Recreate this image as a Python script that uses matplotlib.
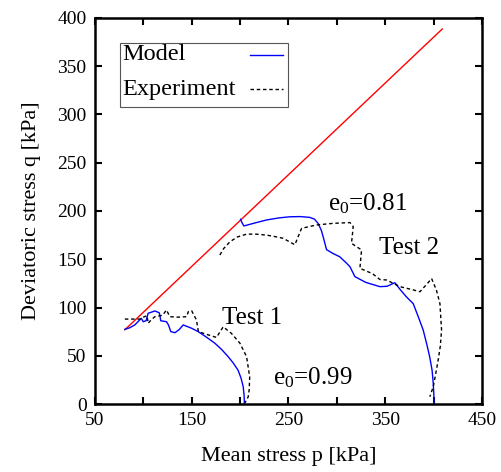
import numpy as np
import matplotlib
matplotlib.use('Agg')
import matplotlib.pyplot as plt
from matplotlib.patches import Rectangle

plt.rcParams['font.family'] = ['Liberation Serif', 'DejaVu Serif']
plt.rcParams['mathtext.fontset'] = 'custom'
plt.rcParams['mathtext.rm'] = 'Liberation Serif'
plt.rcParams['mathtext.it'] = 'Liberation Serif'

# critical state line q = M p
csl_p = [81, 409]
csl_M = 0.95

# test 1 (e0 = 0.99)
t1_model_p = [81, 86, 91.3, 95.5, 98, 99.9, 103, 105, 112, 116.5, 117.5, 118, 124, 126,
              128.5, 132.7, 137, 141.3, 150, 156.8, 165, 174, 181, 187.8, 193, 198, 201,
              203.3, 204.3, 204.5]
t1_model_q = [77.4, 79, 82, 86.3, 88.8, 85.3, 86.3, 94, 96.4, 94.6, 90, 86.3, 85.3, 82,
              75, 73.9, 77, 81.9, 78.5, 75, 69.5, 63, 56.5, 49, 42.5, 35, 27,
              18, 8, 0]
t1_exp_p = [81, 93, 96.5, 100, 104, 105, 108, 112, 120, 124, 127.5, 136, 144.8, 146.5,
            150, 155, 157, 166, 175.7, 182.6, 191.3, 199.9, 206.8, 210, 209.5, 208.5, 205]
t1_exp_q = [88, 88, 88, 90, 91.5, 83.6, 87, 90.5, 92, 97.4, 90.5, 90, 90.5, 95.6,
            96.7, 87, 75, 72, 69, 80, 73, 63, 49, 28, 15, 7.6, 1]

# test 2 (e0 = 0.81)
t2_model_p = [200.6, 202, 204, 215, 227.5, 240, 251.5, 262, 272, 277, 280.8, 284, 286,
              289.4, 296, 303, 310, 313.6, 318.7, 330, 344.6, 352, 360, 366, 372, 379,
              384, 389.3, 393, 396, 398.5, 399.7, 400.3, 400.4]
t2_model_q = [191.4, 188, 184.5, 187.5, 190.7, 192.8, 194, 194.2, 193.4, 191.5, 187, 180, 173,
              160, 156, 152.6, 146, 142.3, 132, 126, 121.6, 122, 125.7, 118, 111, 104,
              91, 76.7, 62, 49, 35, 21.4, 10, 0]
t2_exp_p = [179.2, 183, 189.5, 197, 206.8, 217, 227.5, 236, 244.6, 256.7, 263.6, 279,
            296.3, 313.6, 317, 315.2, 325.6, 323.9, 337, 344.6, 351.4, 365.2, 376, 386,
            392, 398, 403, 406.6, 408.3, 407, 404.8, 402, 399.7, 396.2]
t2_exp_q = [154.4, 161, 168, 173, 176, 176, 175, 173.5, 171.7, 165, 182, 185.5,
            187.2, 188, 183.7, 166.5, 159.6, 140.6, 135, 129, 128.5, 121.6, 119, 116.4,
            123, 130, 118, 104, 76.7, 60, 45.6, 30, 18, 7.6]

legend_labels = ['Model', 'Experiment']

model_style = dict(color='blue', lw=1.0)
exp_style = dict(color='black', lw=1.0, ls=(0, (2.5, 2)))

fig = plt.figure(figsize=(5.02, 4.72), dpi=100)
ax = fig.add_axes([0.189, 0.144, 0.771, 0.818])

cp = np.array(csl_p)
ax.plot(cp, csl_M * cp, color='red', lw=1.0)
ax.plot(t1_model_p, t1_model_q, **model_style)
ax.plot(t1_exp_p, t1_exp_q, **exp_style)
ax.plot(t2_model_p, t2_model_q, **model_style)
ax.plot(t2_exp_p, t2_exp_q, **exp_style)

ax.text(212, 89, 'Test 1', fontsize=18, ha='center', va='center')
ax.text(374.5, 161.6, 'Test 2', fontsize=18, ha='center', va='center')
ax.text(290.8, 208, r'e$_0$=0.81', fontsize=18, ha='left', va='center')
ax.text(234, 27, r'e$_0$=0.99', fontsize=18, ha='left', va='center')

# legend box: text on the left, line sample on the right (gnuplot style)
ax.add_patch(Rectangle((0.0646, 0.769), 0.434, 0.166, transform=ax.transAxes,
                       facecolor='white', edgecolor='#555555', lw=0.8, zorder=5))
for lab, sty, y in zip(legend_labels, [model_style, exp_style], [0.905, 0.815]):
    ax.text(0.072, y, lab, transform=ax.transAxes, fontsize=17.5, ha='left',
            va='center', zorder=6)
    ax.plot([0.400, 0.486], [y, y], transform=ax.transAxes, zorder=6, **sty)

ax.set_xlim(50, 450)
ax.set_ylim(0, 400)
ax.set_xticks(np.arange(50, 451, 50))
ax.set_xticklabels([str(v) if v % 100 == 50 else '' for v in range(50, 451, 50)])
ax.set_yticks(np.arange(0, 401, 50))
ax.tick_params(direction='in', length=5, width=1.5, top=True, right=True,
               labelsize=14, pad=6)
for s in ax.spines.values():
    s.set_linewidth(1.8)

ax.set_xlabel('Mean stress p [kPa]', fontsize=16, labelpad=13)
ax.set_ylabel('Deviatoric stress q [kPa]', fontsize=16, labelpad=12)

plt.savefig('out.png', dpi=100)
